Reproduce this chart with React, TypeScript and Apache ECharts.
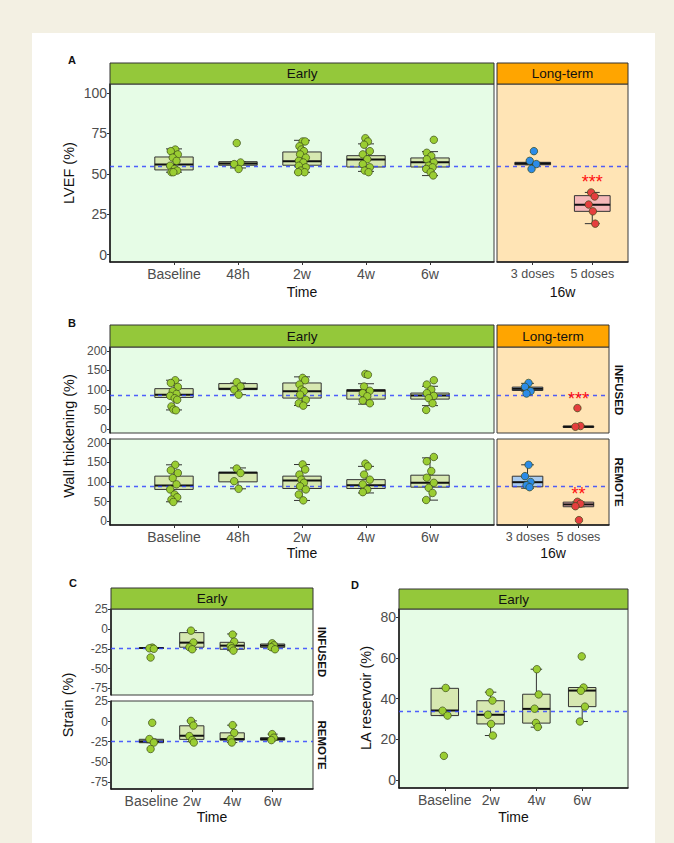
import React, { useEffect, useRef } from 'react';
import * as echarts from 'echarts';

const FONT = '"Liberation Sans", Arial, Helvetica, sans-serif';

// ---------- categories ----------
const EARLY_CATS = ['Baseline', '48h', '2w', '4w', '6w'];
const LONG_CATS = ['3 doses', '5 doses'];
const SHORT_CATS = ['Baseline', '2w', '4w', '6w'];

// ---------- box stats: [lower whisker, q1, median, q3, upper whisker] ----------
const LVEF_EARLY_BOX = [
  [51, 52.4, 55.7, 60.4, 65.4],
  [53.6, 55.3, 56.3, 57.5, 57.5],
  [50.9, 55.3, 57.7, 63.5, 70.7],
  [51.5, 54.2, 58.8, 61.2, 68.5],
  [48.9, 54.2, 57.1, 59.8, 63.7],
];
const LVEF_EARLY_PTS = [
  [65, 64, 62, 60, 58, 55, 53, 52, 51, 51],
  [69, 57, 56, 53],
  [70, 70, 67, 65, 64, 62, 60, 58, 57, 55, 54, 52, 51, 51],
  [72, 70, 68, 64, 62, 59, 56, 54, 52, 51],
  [71, 63, 61, 59, 57, 55, 54, 53, 51, 49],
];
const LVEF_LONG_BOX = [
  [55.6, 55.6, 56.4, 57.1, 57.1],
  [19.2, 26.8, 30.9, 36.5, 38.5],
];
const LVEF_LONG_PTS = [
  [64, 58, 56, 53],
  [38.5, 36, 31, 26.8, 19.2],
];
const LVEF_REF = 55;
const LVEF_STARS = [{ cat: 2, value: 47.4, text: '***' }];

const WT_INF_EARLY_BOX = [
  [49, 81, 88, 103.4, 125],
  [88, 101, 103.4, 116.4, 118],
  [60.3, 79.3, 96.6, 118, 133.6],
  [63.8, 76.7, 98.3, 101, 116],
  [60, 76.7, 86, 92.2, 109.5],
];
const WT_INF_EARLY_PTS = [
  [125, 118, 108, 97, 90, 85, 79, 75, 58, 50, 48],
  [120, 109, 101, 88],
  [131, 125, 114, 101, 97, 88, 75, 66, 60],
  [141, 139, 109, 98, 92, 84, 73, 66],
  [125, 114, 101, 92, 85, 79, 66, 49],
];
const WT_REM_EARLY_BOX = [
  [49.4, 81, 91, 115, 144],
  [82.6, 100.4, 123.4, 125, 136],
  [52.8, 83.4, 103.8, 115, 144.7],
  [72, 83.4, 92, 106, 140],
  [53.6, 86.8, 98, 117.4, 161.7],
];
const WT_REM_EARLY_PTS = [
  [144, 130, 123, 110, 94, 81, 68, 61, 55, 49],
  [134.5, 123, 102, 82.6],
  [145, 132, 119, 106, 98, 89, 81, 68, 53],
  [147, 140, 119, 106, 94, 81, 74],
  [164, 153, 128, 111, 98, 85, 72, 54],
];
const WT_INF_LONG_BOX = [
  [96.9, 98.7, 103, 107.4, 117],
  [4.3, 4.3, 6, 7.8, 7.8],
];
const WT_INF_LONG_PTS = [
  [118, 108, 97, 91],
  [53.7, 7.8, 6],
];
const WT_REM_LONG_BOX = [
  [84, 87.7, 99.5, 114.8, 144],
  [36.7, 36.7, 42.6, 48.5, 48.5],
];
const WT_REM_LONG_PTS = [
  [144, 115, 100, 91.7, 86.7],
  [49.4, 44.4, 38, 2.5],
];
const WT_INF_REF = 86.5;
const WT_REM_REF = 91;
const WT_INF_STARS = [{ cat: 2, value: 88.3, text: '***' }];
const WT_REM_STARS = [{ cat: 2, value: 78.3, text: '**' }];

const STRAIN_INF_BOX = [
  [-25, -24.4, -24, -23.5, -23.5],
  [-25.6, -23, -17.2, -4.5, -2],
  [-27.3, -25.6, -21, -16.8, -6.2],
  [-25.6, -23.1, -21, -18.9, -18],
];
const STRAIN_INF_PTS = [
  [-23.5, -24.4, -25, -36],
  [-2, -17, -23, -25.6],
  [-7, -16, -21.4, -24.4, -27.3],
  [-18, -20.6, -23, -25.6],
];
const STRAIN_REM_BOX = [
  [-26.2, -26.2, -24.6, -22, -21.7],
  [-25, -22.1, -17.6, -5.3, 0.8],
  [-26, -23, -21.7, -14, -4.5],
  [-23, -23, -21.7, -20, -15.6],
];
const STRAIN_REM_PTS = [
  [-1.6, -21.7, -26, -34],
  [0.8, -5, -18, -23, -26],
  [-4.5, -14, -21.7, -26],
  [-15.6, -20, -23],
];
const STRAIN_INF_REF = -24.5;
const STRAIN_REM_REF = -23.8;

const LA_BOX = [
  [31.6, 31.6, 34.1, 45, 45],
  [21.8, 27.5, 32, 38.9, 43.1],
  [25.9, 27.9, 34.9, 42.1, 54.4],
  [28.7, 36, 43.9, 45.4, 45.4],
];
const LA_PTS = [
  [45.2, 34, 31.6, 11.8],
  [43, 39, 32, 27.5, 21.8],
  [54.4, 42, 35, 28, 26],
  [60.7, 45.4, 43.8, 36, 28.7],
];
const LA_REF = 34;

// ---------- tick labels ----------
const LVEF_TICKS = [0, 25, 50, 75, 100];
const WT_TICKS = [0, 50, 100, 150, 200];
const STRAIN_TICKS = [-75, -50, -25, 0, 25];
const LA_TICKS = [0, 20, 40, 60, 80];

// ---------- styling ----------
const EARLY_BG = '#E6FCE6';
const LONG_BG = '#FFE4B5';
const GREEN_STRIP = '#94C83A';
const ORANGE_STRIP = '#FFA500';
const GREEN_BOX = '#D7E8B1';
const GREEN_PT = '#9ACD32';
const BLUE_BOX = '#A9CBF0';
const BLUE_PT = '#2B8BE8';
const RED_BOX = '#F5B7B9';
const RED_PT = '#E53E3E';
const REF_COLOR = '#3344FF';
const BOX_W = 0.6;
const CAP_W = 0.25;
const JITTER = [0.02, -0.05, 0.06, -0.02, 0.04, -0.06, 0.01, 0.05, -0.04, -0.01, 0.03, -0.03, 0.06, -0.05];

type Panel = {
  left: number; top: number; width: number; height: number;
  bg: string; xMin: number; xMax: number;
  cats: string[]; catFont: number; showX: boolean;
  yMin: number; yMax: number; yTicks: number[] | null; yFont: number;
  boxes: number[][]; pts: number[][];
  fills: string[]; ptColors: string[];
  ref: number;
  stars?: { cat: number; value: number; text: string }[];
};

const g5 = (c: string) => [c, c, c, c, c];
const LONG_FILLS = [BLUE_BOX, RED_BOX];
const LONG_PTC = [BLUE_PT, RED_PT];

const PANELS: Panel[] = [
  // A
  { left: 110, top: 84, width: 384, height: 178, bg: EARLY_BG, xMin: 0, xMax: 6, cats: EARLY_CATS, catFont: 14, showX: true,
    yMin: -4.5, yMax: 105.5, yTicks: LVEF_TICKS, yFont: 14, boxes: LVEF_EARLY_BOX, pts: LVEF_EARLY_PTS, fills: g5(GREEN_BOX), ptColors: g5(GREEN_PT), ref: LVEF_REF },
  { left: 497, top: 84, width: 131, height: 178, bg: LONG_BG, xMin: 0.4, xMax: 2.6, cats: LONG_CATS, catFont: 12.5, showX: true,
    yMin: -4.5, yMax: 105.5, yTicks: null, yFont: 14, boxes: LVEF_LONG_BOX, pts: LVEF_LONG_PTS, fills: LONG_FILLS, ptColors: LONG_PTC, ref: LVEF_REF, stars: LVEF_STARS },
  // B
  { left: 110, top: 347, width: 384, height: 86, bg: EARLY_BG, xMin: 0, xMax: 6, cats: EARLY_CATS, catFont: 14, showX: false,
    yMin: -10, yMax: 210, yTicks: WT_TICKS, yFont: 12, boxes: WT_INF_EARLY_BOX, pts: WT_INF_EARLY_PTS, fills: g5(GREEN_BOX), ptColors: g5(GREEN_PT), ref: WT_INF_REF },
  { left: 110, top: 439, width: 384, height: 86, bg: EARLY_BG, xMin: 0, xMax: 6, cats: EARLY_CATS, catFont: 14, showX: true,
    yMin: -10, yMax: 210, yTicks: WT_TICKS, yFont: 12, boxes: WT_REM_EARLY_BOX, pts: WT_REM_EARLY_PTS, fills: g5(GREEN_BOX), ptColors: g5(GREEN_PT), ref: WT_REM_REF },
  { left: 497, top: 347, width: 112, height: 86, bg: LONG_BG, xMin: 0.4, xMax: 2.6, cats: LONG_CATS, catFont: 12.5, showX: false,
    yMin: -10, yMax: 210, yTicks: null, yFont: 12, boxes: WT_INF_LONG_BOX, pts: WT_INF_LONG_PTS, fills: LONG_FILLS, ptColors: LONG_PTC, ref: WT_INF_REF, stars: WT_INF_STARS },
  { left: 497, top: 439, width: 112, height: 86, bg: LONG_BG, xMin: 0.4, xMax: 2.6, cats: LONG_CATS, catFont: 12.5, showX: true,
    yMin: -10, yMax: 210, yTicks: null, yFont: 12, boxes: WT_REM_LONG_BOX, pts: WT_REM_LONG_PTS, fills: LONG_FILLS, ptColors: LONG_PTC, ref: WT_REM_REF, stars: WT_REM_STARS },
  // C
  { left: 111, top: 609, width: 202, height: 86, bg: EARLY_BG, xMin: 0, xMax: 5, cats: SHORT_CATS, catFont: 14, showX: false,
    yMin: -83.5, yMax: 25.4, yTicks: STRAIN_TICKS, yFont: 12, boxes: STRAIN_INF_BOX, pts: STRAIN_INF_PTS, fills: g5(GREEN_BOX), ptColors: g5(GREEN_PT), ref: STRAIN_INF_REF },
  { left: 111, top: 701, width: 202, height: 88, bg: EARLY_BG, xMin: 0, xMax: 5, cats: SHORT_CATS, catFont: 14, showX: true,
    yMin: -83.5, yMax: 25.4, yTicks: STRAIN_TICKS, yFont: 12, boxes: STRAIN_REM_BOX, pts: STRAIN_REM_PTS, fills: g5(GREEN_BOX), ptColors: g5(GREEN_PT), ref: STRAIN_REM_REF },
  // D
  { left: 399, top: 609, width: 229, height: 179, bg: EARLY_BG, xMin: 0, xMax: 5, cats: SHORT_CATS, catFont: 14, showX: true,
    yMin: -4, yMax: 84, yTicks: LA_TICKS, yFont: 14, boxes: LA_BOX, pts: LA_PTS, fills: g5(GREEN_BOX), ptColors: g5(GREEN_PT), ref: LA_REF },
];

function buildOption() {
  const grid: any[] = [];
  const xAxis: any[] = [];
  const yAxis: any[] = [];
  const series: any[] = [];

  PANELS.forEach((p, gi) => {
    grid.push({
      left: p.left, top: p.top, width: p.width, height: p.height,
      show: true, backgroundColor: p.bg, borderColor: '#3a3a3a', borderWidth: 1,
      containLabel: false, outerBoundsMode: 'none',
    });
    const xs = p.cats.map((_, i) => i + 1);
    xAxis.push({
      type: 'value', gridIndex: gi, min: p.xMin, max: p.xMax,
      splitLine: { show: false },
      axisLine: { show: p.showX, onZero: false, lineStyle: { color: '#1a1a1a', width: 1.5 } },
      axisTick: { show: p.showX, customValues: xs, length: 3, lineStyle: { color: '#333', width: 1 } },
      axisLabel: {
        show: p.showX, customValues: xs,
        formatter: (v: number) => p.cats[Math.round(v) - 1] ?? '',
        color: '#4D4D4D', fontSize: p.catFont, fontFamily: FONT, margin: 5,
      },
    });
    yAxis.push({
      type: 'value', gridIndex: gi, min: p.yMin, max: p.yMax,
      show: !!p.yTicks,
      splitLine: { show: false },
      axisLine: { show: true, onZero: false, lineStyle: { color: '#1a1a1a', width: 1.5 } },
      axisTick: { show: true, customValues: p.yTicks ?? [], length: 3, lineStyle: { color: '#333', width: 1 } },
      axisLabel: { customValues: p.yTicks ?? [], color: '#4D4D4D', fontSize: p.yFont, lineHeight: p.yFont, fontFamily: FONT, margin: 3 },
    });

    const fills = p.fills;
    // boxes with whiskers
    series.push({
      type: 'custom', xAxisIndex: gi, yAxisIndex: gi, z: 2,
      data: p.boxes.map((b, i) => [xs[i], ...b]),
      encode: { x: 0, y: [1, 2, 3, 4, 5] },
      renderItem: (params: any, api: any) => {
        const x = api.value(0);
        const pLo = api.coord([x, api.value(1)]);
        const pQ1 = api.coord([x, api.value(2)]);
        const pMd = api.coord([x, api.value(3)]);
        const pQ3 = api.coord([x, api.value(4)]);
        const pHi = api.coord([x, api.value(5)]);
        const cx = pMd[0];
        const bw = api.size([BOX_W, 0])[0];
        const cw = api.size([CAP_W, 0])[0];
        const st = { stroke: '#333', lineWidth: 1 };
        return {
          type: 'group',
          children: [
            { type: 'line', shape: { x1: cx, y1: pHi[1], x2: cx, y2: pQ3[1] }, style: st },
            { type: 'line', shape: { x1: cx, y1: pQ1[1], x2: cx, y2: pLo[1] }, style: st },
            { type: 'line', shape: { x1: cx - cw / 2, y1: pHi[1], x2: cx + cw / 2, y2: pHi[1] }, style: st },
            { type: 'line', shape: { x1: cx - cw / 2, y1: pLo[1], x2: cx + cw / 2, y2: pLo[1] }, style: st },
            { type: 'rect', shape: { x: cx - bw / 2, y: pQ3[1], width: bw, height: Math.max(pQ1[1] - pQ3[1], 0.5) },
              style: { fill: fills[params.dataIndex], stroke: '#333', lineWidth: 1 } },
            { type: 'line', shape: { x1: cx - bw / 2, y1: pMd[1], x2: cx + bw / 2, y2: pMd[1] }, style: { stroke: '#111', lineWidth: 2 } },
          ],
        };
      },
    });

    // dashed reference line
    const xMin = p.xMin, xMax = p.xMax;
    series.push({
      type: 'custom', xAxisIndex: gi, yAxisIndex: gi, z: 4, silent: true,
      data: [[xMin, p.ref]],
      renderItem: (params: any, api: any) => {
        const a = api.coord([xMin, api.value(1)]);
        const b = api.coord([xMax, api.value(1)]);
        const y = Math.round(a[1]) + 0.5;
        return {
          type: 'line', shape: { x1: a[0], y1: y, x2: b[0], y2: y },
          style: { stroke: REF_COLOR, lineWidth: 1.6, lineDash: [4, 4], opacity: 0.85 },
        };
      },
    });

    // jittered points
    const ptData: any[] = [];
    p.pts.forEach((arr, i) => {
      arr.forEach((v, j) => {
        ptData.push({ value: [xs[i] + JITTER[(j + i * 3) % JITTER.length], v], itemStyle: { color: p.ptColors[i] } });
      });
    });
    series.push({
      type: 'scatter', xAxisIndex: gi, yAxisIndex: gi, z: 6,
      symbolSize: 7.5,
      itemStyle: { borderColor: '#3b4a1a', borderWidth: 0.7, opacity: 1 },
      data: ptData,
    });

    if (p.stars) {
      const stars = p.stars;
      series.push({
        type: 'custom', xAxisIndex: gi, yAxisIndex: gi, z: 7,
        data: stars.map((s) => [s.cat, s.value]),
        renderItem: (params: any, api: any) => {
          const pt = api.coord([api.value(0), api.value(1)]);
          return {
            type: 'text', x: pt[0], y: pt[1] + 4,
            style: { text: stars[params.dataIndex].text, fill: '#FF1010', fontSize: 18, fontFamily: FONT, align: 'center', verticalAlign: 'middle' },
          };
        },
      });
    }
  });

  const graphic: any[] = [];
  const strip = (x: number, y: number, w: number, h: number, fill: string, text: string) => {
    graphic.push({ type: 'rect', shape: { x, y, width: w, height: h }, style: { fill, stroke: '#333', lineWidth: 1 }, z: 10 });
    graphic.push({ type: 'text', x: x + w / 2, y: y + h / 2, z: 11,
      style: { text, fill: '#111', fontSize: 13.5, fontFamily: FONT, align: 'center', verticalAlign: 'middle' } });
  };
  strip(110, 63, 384, 21, GREEN_STRIP, 'Early');
  strip(497, 63, 131, 21, ORANGE_STRIP, 'Long-term');
  strip(110, 325, 384, 22, GREEN_STRIP, 'Early');
  strip(497, 325, 112, 22, ORANGE_STRIP, 'Long-term');
  strip(111, 588, 202, 21, GREEN_STRIP, 'Early');
  strip(399, 589, 229, 20, GREEN_STRIP, 'Early');

  const text = (x: number, y: number, t: string, size: number, opts: any = {}) => {
    graphic.push({ type: 'text', x, y, rotation: opts.rotation ?? 0, z: 11,
      style: { text: t, fill: opts.fill ?? '#111', fontSize: size, fontWeight: opts.bold ? 'bold' : 'normal', fontFamily: FONT,
        align: 'center', verticalAlign: 'middle' } });
  };
  // panel letters
  text(72, 60, 'A', 11, { bold: true });
  text(72, 323, 'B', 11, { bold: true });
  text(73, 583, 'C', 11, { bold: true });
  text(355, 585, 'D', 11, { bold: true });
  // y titles
  text(69, 173, 'LVEF (%)', 14.5, { rotation: Math.PI / 2 });
  text(69, 436, 'Wall thickening (%)', 14.5, { rotation: Math.PI / 2 });
  text(68, 705, 'Strain (%)', 14.5, { rotation: Math.PI / 2 });
  text(366, 698, 'LA reservoir (%)', 14.5, { rotation: Math.PI / 2 });
  // x titles
  text(302, 292, 'Time', 14);
  text(562.5, 292, '16w', 14);
  text(302, 553, 'Time', 14);
  text(553, 553, '16w', 14);
  text(212, 817, 'Time', 14);
  text(513.5, 817, 'Time', 14);
  // facet labels
  text(619, 390, 'INFUSED', 11.5, { bold: true, rotation: -Math.PI / 2 });
  text(619, 482, 'REMOTE', 11.5, { bold: true, rotation: -Math.PI / 2 });
  text(322, 652, 'INFUSED', 11.5, { bold: true, rotation: -Math.PI / 2 });
  text(322, 745, 'REMOTE', 11.5, { bold: true, rotation: -Math.PI / 2 });

  return {
    animation: false,
    textStyle: { fontFamily: FONT },
    grid, xAxis, yAxis, series, graphic,
  };
}

export default function App() {
  const ref = useRef<HTMLDivElement>(null);
  useEffect(() => {
    if (!ref.current) return;
    const chart = echarts.init(ref.current, null, { renderer: 'svg' });
    chart.setOption(buildOption() as any);
    return () => chart.dispose();
  }, []);
  return (
    <div style={{ position: 'fixed', left: 0, top: 0, width: 674, height: 843, background: '#F3F0E3' }}>
      <div style={{ position: 'absolute', left: 32, top: 33, width: 623, height: 810, background: '#FFFFFF' }} />
      <div ref={ref} style={{ position: 'absolute', left: 0, top: 0, width: 674, height: 843 }} />
    </div>
  );
}
